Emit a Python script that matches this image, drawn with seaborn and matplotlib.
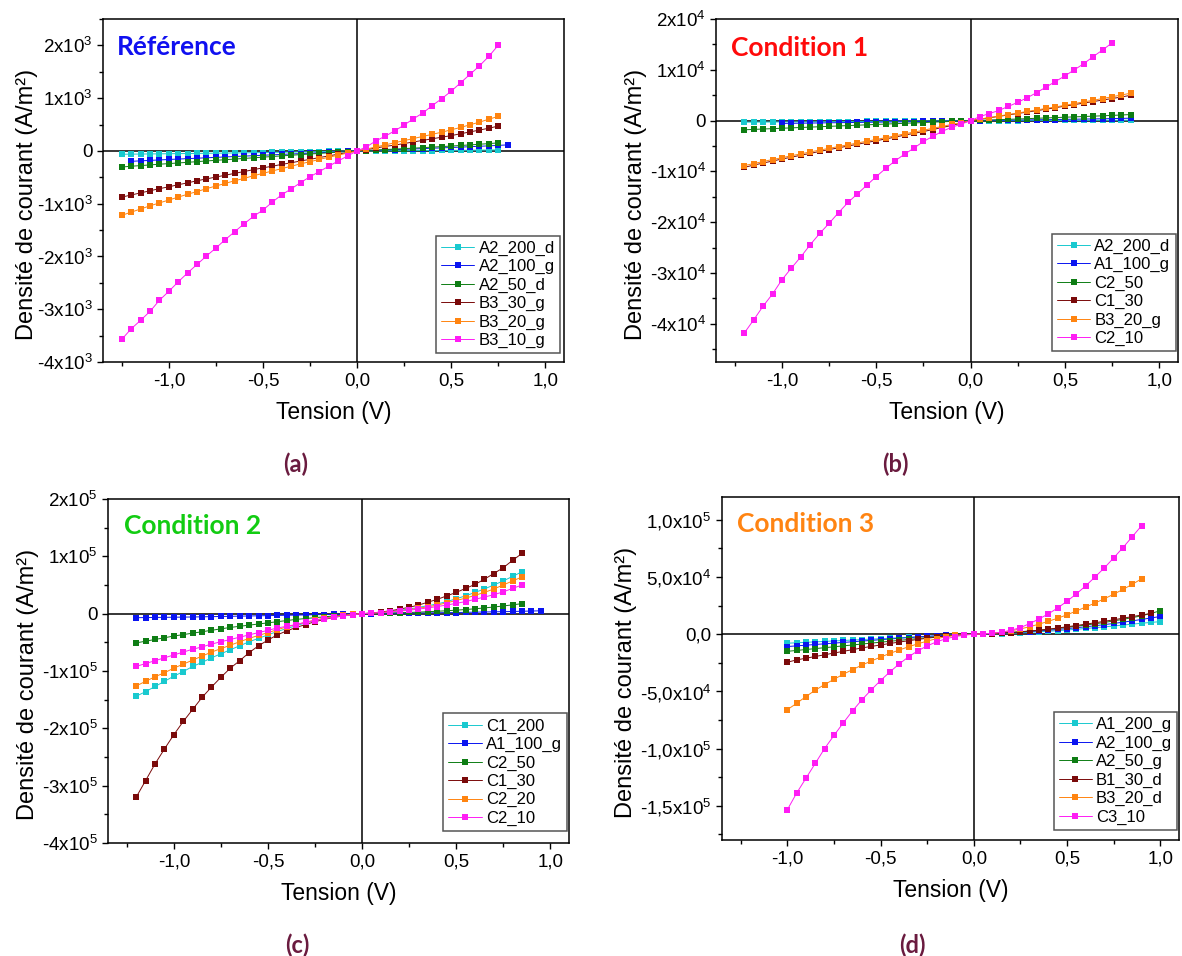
import numpy as np
import seaborn as sns
import matplotlib
import matplotlib.pyplot as plt
from matplotlib.ticker import MultipleLocator

matplotlib.use("Agg")

# ---------------- data (J in A/m², V in volts) ----------------
STEP = 0.05

REF_NAMES = ["A2_200_d", "A2_100_g", "A2_50_d", "B3_30_g", "B3_20_g", "B3_10_g"]
REF_START = [-1.25, -1.2, -1.25, -1.25, -1.25, -1.25]
REF_J = [
    [-63, -61, -59, -57, -55, -53, -51, -49, -47, -45, -43, -41, -38, -36, -33, -30, -28, -25, -22,
     -19, -16, -13, -10, -7, -3, 0, 1, 2, 3, 4, 5, 6, 7, 8, 9, 10, 12, 13, 15, 17, 19],
    [-197, -188, -179, -171, -162, -154, -146, -138, -130, -122, -114, -106, -98, -90, -82, -74, -66,
     -58, -50, -42, -34, -26, -17, -9, 0, 6, 12, 18, 24, 31, 37, 44, 51, 58, 65, 72, 80, 88, 96, 105, 114],
    [-305, -290, -278, -265, -252, -240, -228, -216, -203, -190, -178, -166, -154, -142, -130, -118,
     -106, -94, -82, -70, -58, -47, -35, -23, -12, 0, 8, 17, 26, 35, 44, 53, 62, 72, 82, 92, 103, 114,
     126, 139, 152],
    [-875, -835, -795, -755, -715, -680, -640, -605, -565, -530, -495, -460, -425, -390, -355, -320,
     -290, -255, -225, -190, -160, -125, -95, -60, -30, 0, 25, 55, 85, 110, 140, 170, 200, 230, 260,
     290, 325, 360, 395, 430, 470],
    [-1220, -1160, -1100, -1040, -985, -930, -875, -820, -770, -715, -665, -615, -565, -520, -470,
     -425, -380, -335, -290, -245, -205, -160, -120, -80, -40, 0, 35, 75, 115, 155, 195, 235, 275, 315,
     355, 400, 445, 495, 545, 600, 655],
    [-3570, -3370, -3210, -3040, -2830, -2660, -2480, -2310, -2150, -1990, -1840, -1680, -1530, -1380,
     -1240, -1120, -970, -830, -720, -600, -490, -390, -290, -190, -95, 0, 76, 190, 280, 380, 490, 610,
     720, 860, 990, 1130, 1290, 1450, 1610, 1790, 2000],
]

C1_NAMES = ["A2_200_d", "A1_100_g", "C2_50", "C1_30", "B3_20_g", "C2_10"]
C1_START = [-1.2, -1.0, -1.2, -1.2, -1.2, -1.2]
C1_J = [
    [-300, -290, -280, -270, -260, -250, -240, -230, -220, -210, -200, -190, -180, -170, -160, -150,
     -135, -120, -105, -90, -75, -60, -45, -25, 0, 5, 10, 15, 20, 25, 30, 35, 40, 45, 50, 55, 60, 65,
     70, 75, 80, 85],
    [-550, -530, -505, -480, -455, -430, -405, -380, -355, -330, -305, -280, -255, -230, -200, -170,
     -140, -110, -75, -40, 0, 20, 45, 70, 95, 120, 145, 170, 195, 220, 250, 280, 310, 340, 370, 400,
     440, 480],
    [-1800, -1725, -1650, -1575, -1500, -1425, -1350, -1275, -1200, -1125, -1050, -975, -900, -825,
     -750, -675, -600, -525, -450, -375, -300, -225, -150, -75, 0, 60, 125, 190, 255, 320, 390, 460,
     530, 600, 670, 740, 810, 880, 950, 1030, 1110, 1200],
    [-9200, -8750, -8350, -7950, -7550, -7200, -6800, -6450, -6050, -5700, -5350, -5000, -4650, -4300,
     -3950, -3600, -3250, -2850, -2500, -2150, -1750, -1350, -950, -500, 0, 280, 560, 840, 1120, 1400,
     1680, 1960, 2250, 2550, 2850, 3150, 3450, 3750, 4050, 4350, 4650, 5000],
    [-8850, -8450, -8050, -7650, -7300, -6900, -6550, -6150, -5800, -5450, -5100, -4750, -4400, -4050,
     -3700, -3350, -3000, -2600, -2250, -1900, -1500, -1150, -750, -380, 0, 300, 600, 900, 1200, 1500,
     1800, 2100, 2400, 2700, 3000, 3350, 3700, 4000, 4350, 4700, 5050, 5400],
    [-41800, -39200, -36500, -34100, -31300, -29000, -26800, -24400, -22200, -20200, -18100, -16100,
     -14400, -12700, -11000, -9400, -7900, -6600, -5400, -4100, -3100, -2100, -1300, -700, 0, 800,
     1400, 2000, 2800, 3600, 4500, 5500, 6600, 7700, 8800, 10000, 11200, 12600, 13900, 15300],
]

C2_NAMES = ["C1_200", "A1_100_g", "C2_50", "C1_30", "C2_20", "C2_10"]
C2_START = [-1.2, -1.2, -1.2, -1.2, -1.2, -1.2]
C2_J = [
    [-144000, -136000, -127000, -118000, -109000, -101000, -92000, -85000, -77000, -70000, -63000,
     -56000, -49000, -43000, -37000, -31000, -26000, -21000, -16000, -12000, -8000, -5000, -3000,
     -1000, 0, 1000, 2000, 4000, 6000, 8000, 11000, 14000, 17000, 21000, 26000, 31000, 37000, 43000,
     50000, 57000, 65000, 73000],
    [-7000, -6800, -6600, -6400, -6200, -6000, -5800, -5500, -5200, -4900, -4600, -4300, -4000, -3700,
     -3400, -3100, -2800, -2500, -2200, -1800, -1500, -1100, -700, -350, 0, 200, 400, 600, 800, 1000,
     1200, 1400, 1600, 1800, 2000, 2300, 2600, 2900, 3200, 3500, 3800, 4200, 4600, 5000],
    [-51000, -48000, -45000, -42000, -39000, -36500, -34000, -31500, -29000, -26500, -24000, -22000,
     -20000, -18000, -16000, -14000, -12000, -10000, -8500, -7000, -5500, -4000, -2500, -1200, 0, 300,
     700, 1100, 1600, 2100, 2700, 3400, 4200, 5100, 6100, 7200, 8500, 10000, 11600, 13400, 15400,
     17500],
    [-320000, -291000, -262000, -236000, -211000, -188000, -167000, -146000, -128000, -111000, -95000,
     -82000, -68000, -56000, -46000, -37000, -30000, -24000, -19000, -14000, -10000, -6500, -3800,
     -1700, 0, 1000, 3000, 5000, 8000, 11000, 15000, 20000, 25000, 31000, 37000, 44000, 51000, 60000,
     70000, 80000, 93000, 105000],
    [-126000, -118000, -110000, -103000, -95000, -88000, -81000, -74000, -67000, -61000, -55000,
     -49000, -43000, -38000, -33000, -28000, -23000, -19000, -15000, -11000, -8000, -5000, -3000,
     -1000, 0, 1000, 2000, 3500, 5000, 7000, 9500, 12000, 15000, 19000, 23000, 27000, 32000, 37000,
     43000, 50000, 57000, 64000],
    [-92000, -87000, -82000, -77000, -72000, -67000, -62000, -58000, -53000, -49000, -45000, -41000,
     -37000, -33000, -29000, -25000, -22000, -19000, -15000, -12000, -9000, -6000, -4000, -2000, 0,
     1000, 2000, 3000, 4500, 6000, 8000, 10000, 12500, 15000, 18000, 21000, 25000, 29000, 33000,
     38000, 44000, 50000],
]

C3_NAMES = ["A1_200_g", "A2_100_g", "A2_50_g", "B1_30_d", "B3_20_d", "C3_10"]
C3_START = [-1.0, -1.0, -1.0, -1.0, -1.0, -1.0]
C3_J = [
    [-7900, -7500, -7100, -6700, -6300, -5900, -5500, -5100, -4700, -4300, -3900, -3500, -3100, -2700,
     -2300, -1900, -1500, -1100, -700, -300, 0, 150, 350, 600, 900, 1250, 1650, 2100, 2600, 3100, 3700,
     4300, 5000, 5700, 6400, 7200, 8000, 8800, 9600, 10300, 11000],
    [-10800, -10200, -9600, -9000, -8400, -7800, -7200, -6600, -6000, -5400, -4800, -4200, -3600,
     -3000, -2400, -1900, -1400, -1000, -600, -300, 0, 200, 500, 900, 1300, 1800, 2300, 2900, 3500,
     4200, 4900, 5700, 6500, 7400, 8400, 9400, 10500, 11700, 12900, 14200, 15500],
    [-15000, -14200, -13400, -12600, -11800, -11000, -10200, -9400, -8600, -7800, -7000, -6200, -5400,
     -4600, -3800, -3000, -2300, -1600, -900, -400, 0, 300, 700, 1100, 1600, 2200, 2800, 3500, 4300,
     5100, 6000, 7000, 8000, 9100, 10300, 11600, 13000, 14500, 16100, 18200, 20500],
    [-24500, -22500, -21000, -19500, -18000, -16500, -15000, -13500, -12000, -10700, -9400, -8100,
     -6900, -5700, -4600, -3500, -2500, -1600, -900, -300, 0, 200, 500, 900, 1400, 2000, 2700, 3500,
     4400, 5400, 6500, 7600, 8800, 10000, 11300, 12600, 14000, 15400, 16800, 18200],
    [-66000, -60500, -54500, -49000, -44000, -39500, -35000, -31000, -27000, -23500, -20000, -16800,
     -13800, -11000, -8400, -6000, -3900, -2200, -1000, -300, 0, 250, 800, 1700, 3000, 4600, 6600,
     8800, 11300, 14000, 17000, 20300, 23800, 27300, 31000, 35000, 39200, 43700, 48500],
    [-153600, -139000, -126000, -113000, -100000, -88600, -77600, -67000, -57400, -48700, -40500,
     -33000, -26000, -19800, -14500, -10200, -6700, -4000, -2100, -800, 0, 300, 900, 1700, 3500, 5800,
     9300, 13400, 17800, 23000, 28900, 35300, 42300, 50100, 58000, 66800, 75800, 85400, 95000],
]

# axis ticks / limits
X_TICKS = [-1.0, -0.5, 0.0, 0.5, 1.0]
X_TICK_LABELS = ["-1,0", "-0,5", "0,0", "0,5", "1,0"]

REF_YTICKS = [-4000, -3000, -2000, -1000, 0, 1000, 2000]
REF_YLABELS = ["-4x10$^{3}$", "-3x10$^{3}$", "-2x10$^{3}$", "-1x10$^{3}$", "0", "1x10$^{3}$", "2x10$^{3}$"]
C1_YTICKS = [-40000, -30000, -20000, -10000, 0, 10000, 20000]
C1_YLABELS = ["-4x10$^{4}$", "-3x10$^{4}$", "-2x10$^{4}$", "-1x10$^{4}$", "0", "1x10$^{4}$", "2x10$^{4}$"]
C2_YTICKS = [-400000, -300000, -200000, -100000, 0, 100000, 200000]
C2_YLABELS = ["-4x10$^{5}$", "-3x10$^{5}$", "-2x10$^{5}$", "-1x10$^{5}$", "0", "1x10$^{5}$", "2x10$^{5}$"]
C3_YTICKS = [-150000, -100000, -50000, 0, 50000, 100000]
C3_YLABELS = ["-1,5x10$^{5}$", "-1,0x10$^{5}$", "-5,0x10$^{4}$", "0,0", "5,0x10$^{4}$", "1,0x10$^{5}$"]

COLORS = ["#19c9cf", "#0a14f0", "#0e7d14", "#7a0a0a", "#ff8410", "#ff1cf4"]


def sweep(start, n):
    """voltage grid of the measurement (constant 0.05 V step)"""
    return np.round(start + STEP * np.arange(n), 3)


def draw_panel(ax, names, starts, series, yticks, ylabels, ylim, yminor, title, title_color,
               title_pos, legend_anchor, ylabel_x):
    for name, start, j, color in zip(names, starts, series, COLORS):
        sns.lineplot(x=sweep(start, len(j)), y=j, ax=ax, color=color, marker="s",
                     markersize=4.2, markeredgewidth=0, linewidth=0.7, label=name,
                     sort=False, errorbar=None)

    ax.axhline(0, color="black", lw=1.1, zorder=1)
    ax.axvline(0, color="black", lw=1.1, zorder=1)

    ax.set_xlim(-1.35, 1.10)
    ax.set_ylim(*ylim)
    ax.set_xticks(X_TICKS)
    ax.set_xticklabels(X_TICK_LABELS)
    ax.xaxis.set_minor_locator(MultipleLocator(0.25))
    ax.set_yticks(yticks)
    ax.set_yticklabels(ylabels)
    ax.yaxis.set_minor_locator(MultipleLocator(yminor))
    ax.tick_params(which="both", direction="out", bottom=True, left=True, top=False,
                   right=False, width=1.0, colors="black", labelsize=13.5, pad=3)
    ax.tick_params(which="major", length=4.5)
    ax.tick_params(which="minor", length=3)
    for sp in ax.spines.values():
        sp.set_visible(True)
        sp.set_color("black")
        sp.set_linewidth(1.1)

    ax.set_xlabel("Tension (V)", fontsize=16.5, labelpad=8, color="black")
    ax.set_ylabel("Densité de courant (A/m²)", fontsize=17, color="black")
    ax.yaxis.set_label_coords(ylabel_x, 0.46)

    ax.text(title_pos[0], title_pos[1], title, transform=ax.transAxes, color=title_color,
            fontsize=19, fontweight="bold", family=["Lato", "DejaVu Sans"],
            ha="left", va="center")

    leg = ax.legend(loc="lower right", bbox_to_anchor=legend_anchor, borderaxespad=0,
                    fontsize=12, labelspacing=0.2, handlelength=2.0, handletextpad=0.25,
                    borderpad=0.3, fancybox=False, framealpha=1, edgecolor="#555555")
    leg.get_frame().set_linewidth(1.1)


sns.set_style("white")
plt.rcParams["font.family"] = ["Liberation Sans", "DejaVu Sans"]
plt.rcParams["mathtext.fontset"] = "custom"
plt.rcParams["mathtext.rm"] = "Liberation Sans"
plt.rcParams["mathtext.it"] = "Liberation Sans"
plt.rcParams["mathtext.default"] = "regular"
plt.rcParams["axes.unicode_minus"] = False
plt.rcParams["text.color"] = "black"

W, H = 1182, 956
fig = plt.figure(figsize=(W / 100, H / 100), dpi=100)


def box(x0, x1, y0, y1):
    return [x0 / W, 1 - y1 / H, (x1 - x0) / W, (y1 - y0) / H]


ax_a = fig.add_axes(box(103, 564, 19, 362))
ax_b = fig.add_axes(box(716, 1178, 19, 362))
ax_c = fig.add_axes(box(108, 569, 499, 843))
ax_d = fig.add_axes(box(722, 1179, 497, 840))

draw_panel(ax_a, REF_NAMES, REF_START, REF_J, REF_YTICKS, REF_YLABELS, (-4000, 2500), 500,
           "Référence", "#1010f0", (0.031, 0.918), (0.991, 0.026), -0.14)
draw_panel(ax_b, C1_NAMES, C1_START, C1_J, C1_YTICKS, C1_YLABELS, (-47500, 20000), 5000,
           "Condition 1", "#ff0a0a", (0.032, 0.915), (0.995, 0.032), -0.15)
draw_panel(ax_c, C2_NAMES, C2_START, C2_J, C2_YTICKS, C2_YLABELS, (-400000, 200000), 50000,
           "Condition 2", "#12cc12", (0.035, 0.921), (0.995, 0.035), -0.15)
draw_panel(ax_d, C3_NAMES, C3_START, C3_J, C3_YTICKS, C3_YLABELS, (-180000, 120000), 25000,
           "Condition 3", "#ff8412", (0.032, 0.92), (0.996, 0.03), -0.185)

for letter, (px, py) in zip(["(a)", "(b)", "(c)", "(d)"],
                            [(296, 464), (895, 464), (297, 945), (912, 945)]):
    fig.text(px / W, 1 - py / H, letter, ha="center", va="center", fontsize=17,
             fontweight="bold", color="#6a1b3f", family=["Lato", "DejaVu Sans"])

fig.savefig("out.png", dpi=100)
